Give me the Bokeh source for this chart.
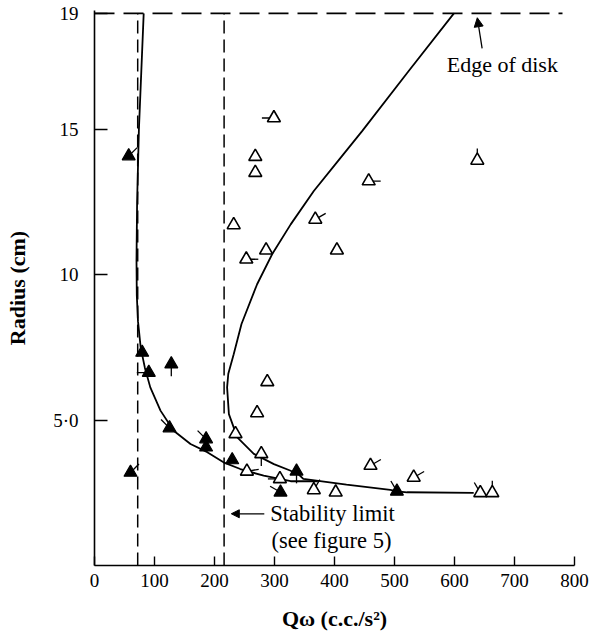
from bokeh.plotting import figure
from bokeh.models import FixedTicker, Span, Label, Arrow, NormalHead
from bokeh.embed import file_html
from bokeh.resources import INLINE

# ---- data ----
x_ticks = [0, 100, 200, 300, 400, 500, 600, 700, 800]
y_ticks = [5, 10, 15, 19]
y_tick_labels = {5: "5·0", 10: "10", 15: "15", 19: "19"}

# filled triangles (Q*omega, radius) and tail direction (deg, None = no tail)
filled_q = [57, 79.5, 90.5, 128, 125, 186, 186, 229.5, 60, 310, 336.7, 504]
filled_r = [14.09, 7.33, 6.64, 6.93, 4.73, 4.35, 4.07, 3.63, 3.2, 2.52, 3.24, 2.55]
filled_tail = [45, None, 180, 270, 135, 135, None, None, 45, 150, 270, 120]

# open triangles
open_q = [299, 268, 268, 232, 286, 253, 638, 457, 368, 404, 288, 271, 235, 278,
          254, 309, 365.5, 402, 460, 532, 643, 663]
open_r = [15.4, 14.07, 13.52, 11.72, 10.85, 10.54, 13.94, 13.23, 11.91, 10.85,
          6.32, 5.25, 4.53, 3.84, 3.24, 2.98, 2.6, 2.52, 3.44, 3.03, 2.5, 2.5]
open_tail = [180, None, None, None, None, 0, 90, 0, 30, None, None, None, None, 270,
             10, 180, 60, None, 30, 30, 120, 90]

# curve A (left branch)
curveA_q = [82, 78, 74, 71, 70, 70.5, 72.5, 77, 84, 93, 110, 132, 160, 188, 215,
            243, 282, 327, 372]
curveA_r = [19, 17, 15, 12.5, 10.5, 9.3, 8.4, 7.5, 6.8, 6.13, 5.33, 4.64, 4.18,
            3.9, 3.55, 3.32, 3.09, 2.9, 2.9]

# curve B (nose branch, continuing along the bottom)
curveB_q = [599, 523, 446, 405, 365.5, 327, 296, 271, 245, 232, 223, 221, 224,
            238, 265.5, 299, 327, 337, 348, 420, 493, 504, 521, 632]
curveB_r = [19, 17, 14.95, 13.9, 12.89, 11.74, 10.71, 9.68, 8.31, 7.27, 6.6, 6.13,
            5.21, 4.41, 3.84, 3.49, 3.26, 3.2, 2.98, 2.78, 2.6, 2.55, 2.52, 2.5]

edge_radius = 19
edge_q_extent = [0, 780]
limit_r_extent = [0, 19]
left_limit_q = 72
stability_limit_q = 216

FONT = "Liberation Serif"

p = figure(width=592, height=633, x_range=(0, 800), y_range=(0, 19.1),
           output_backend="svg", toolbar_location=None,
           min_border_left=94, min_border_right=18, min_border_top=10,
           min_border_bottom=68)
p.outline_line_color = None
p.xgrid.visible = False
p.ygrid.visible = False
p.background_fill_color = "white"
p.border_fill_color = "white"

# axes
for ax in (p.xaxis[0], p.yaxis[0]):
    ax.axis_line_color = "black"
    ax.axis_line_width = 1.6
    ax.major_tick_line_color = "black"
    ax.major_tick_line_width = 1.4
    ax.minor_tick_line_color = None
    ax.major_tick_out = 0
    ax.major_label_text_font = FONT
    ax.major_label_text_font_size = "19px"
    ax.major_label_text_color = "black"
    ax.axis_label_text_font = FONT
    ax.axis_label_text_font_size = "22px"
    ax.axis_label_text_font_style = "bold"
    ax.axis_label_text_color = "black"

p.xaxis.ticker = FixedTicker(ticks=x_ticks)
p.xaxis.major_tick_in = 9
p.xaxis.major_label_standoff = 8
p.xaxis.axis_label = "Qω (c.c./s²)"
p.xaxis.axis_label_standoff = 16

p.yaxis.ticker = FixedTicker(ticks=y_ticks)
p.yaxis.major_label_overrides = y_tick_labels
p.yaxis.major_tick_in = 13
p.yaxis.major_label_standoff = 16
p.yaxis.axis_label = "Radius (cm)"
p.yaxis.axis_label_standoff = 20

# dashed reference lines
for q in (left_limit_q, stability_limit_q):
    p.line([q, q], limit_r_extent, line_color="black", line_width=1.5,
           line_dash="13 6")
p.line(edge_q_extent, [edge_radius, edge_radius], line_color="black",
       line_width=1.8, line_dash="20 9")

# curves
p.line(curveA_q, curveA_r, line_color="black", line_width=1.8)
p.line(curveB_q, curveB_r, line_color="black", line_width=1.8)

# tails
def tails(qs, rs, ts):
    q2 = [q for q, t in zip(qs, ts) if t is not None]
    r2 = [r for r, t in zip(rs, ts) if t is not None]
    a2 = [t for t in ts if t is not None]
    return q2, r2, a2

for qs, rs, ts in ((filled_q, filled_r, filled_tail), (open_q, open_r, open_tail)):
    tq, tr, ta = tails(qs, rs, ts)
    p.ray(x=tq, y=tr, length=12, length_units="screen", angle=ta,
          angle_units="deg", line_color="black", line_width=1.3)

# markers
p.scatter(open_q, open_r, marker="triangle", size=13, fill_color="white",
          line_color="black", line_width=1.6)
p.scatter(filled_q, filled_r, marker="triangle", size=13, fill_color="black",
          line_color="black", line_width=1.2)

# annotations
p.add_layout(Label(x=587, y=17.25, text="Edge of disk", text_font=FONT,
                   text_font_size="22px", text_color="black",
                   text_baseline="middle"))
p.add_layout(Arrow(end=NormalHead(size=9, fill_color="black", line_color="black"),
                   x_start=646, y_start=17.8, x_end=638, y_end=18.85,
                   line_color="black", line_width=1.3))

p.add_layout(Label(x=293, y=1.78, text="Stability limit", text_font=FONT,
                   text_font_size="22.5px", text_color="black",
                   text_baseline="middle"))
p.add_layout(Label(x=295, y=0.86, text="(see figure 5)", text_font=FONT,
                   text_font_size="22.5px", text_color="black",
                   text_baseline="middle"))
p.add_layout(Arrow(end=NormalHead(size=8, fill_color="black", line_color="black"),
                   x_start=283, y_start=1.78, x_end=228, y_end=1.78,
                   line_color="black", line_width=1.3))

open("out.html", "w").write(file_html(p, INLINE))
